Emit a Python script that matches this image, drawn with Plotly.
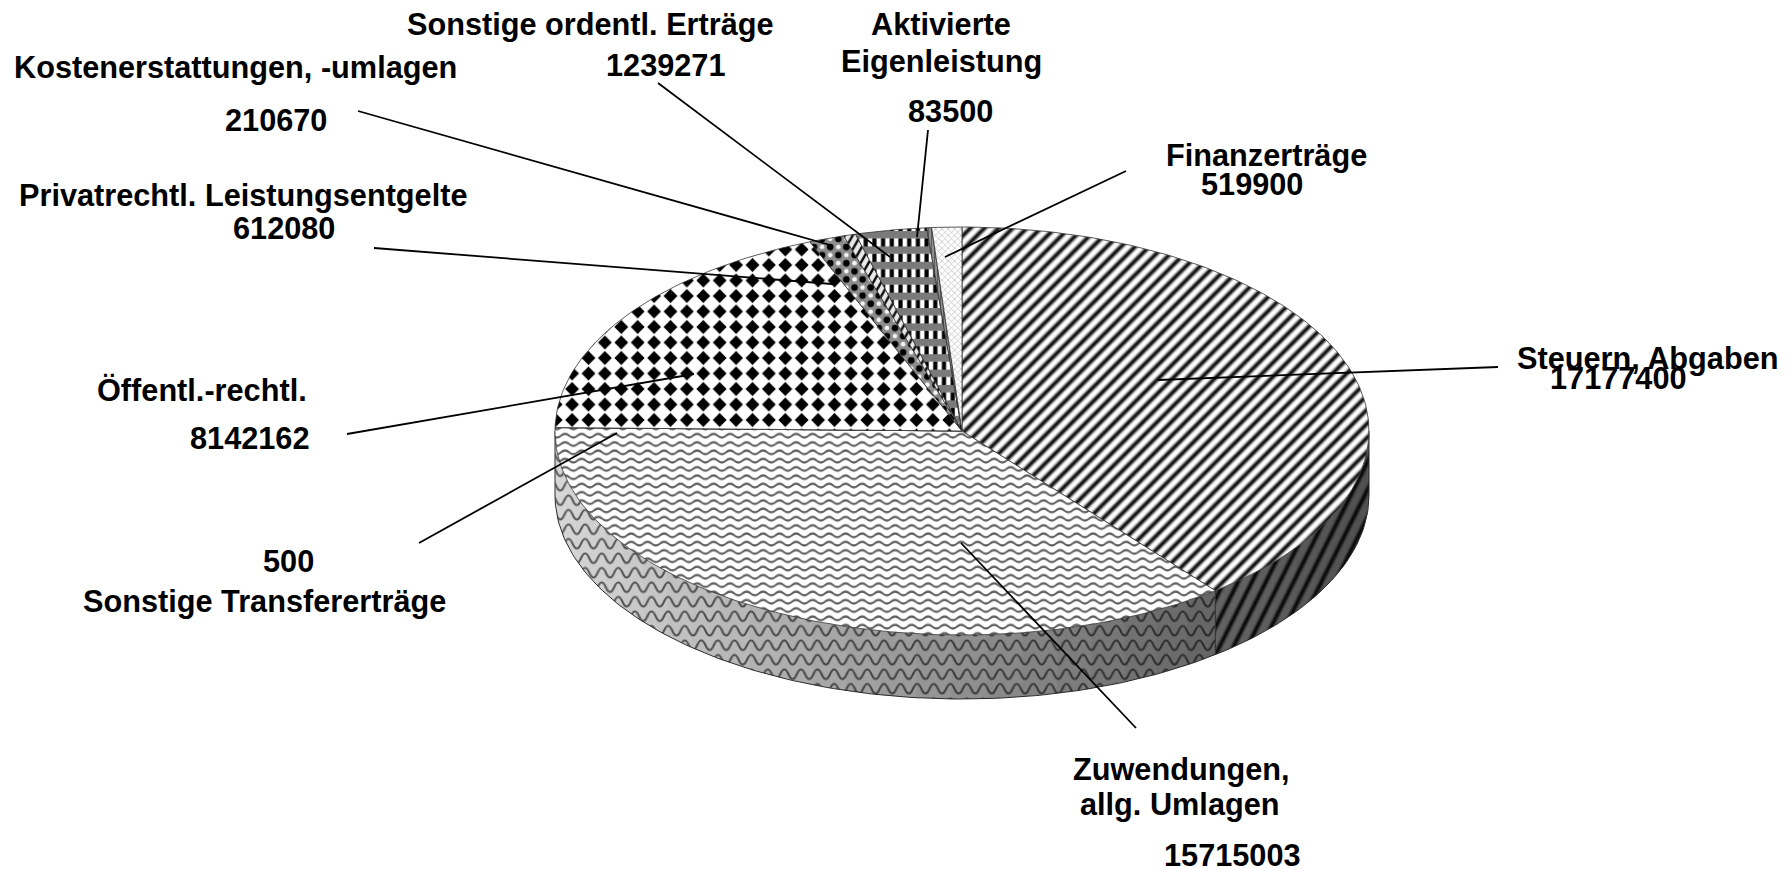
import math
import json
import plotly.graph_objects as go

# ---- data, clockwise from twelve o'clock ----
categories = ["Steuern, Abgaben", "Zuwendungen, allg. Umlagen", "Sonstige Transfererträge",
              "Öffentl.-rechtl.", "Privatrechtl. Leistungsentgelte", "Kostenerstattungen, -umlagen",
              "Sonstige ordentl. Erträge", "Aktivierte Eigenleistung", "Finanzerträge"]
values = [17177400, 15715003, 500, 8142162, 612080, 210670, 1239271, 83500, 519900]

# ---- label text and placement (pixels) ----
label_text = ["Sonstige ordentl. Erträge", "1239271", "Aktivierte", "Eigenleistung", "83500",
              "Kostenerstattungen, -umlagen", "210670", "Finanzerträge", "519900",
              "Privatrechtl. Leistungsentgelte", "612080", "Steuern, Abgaben", "17177400",
              "Öffentl.-rechtl.", "8142162", "500", "Sonstige Transfererträge",
              "Zuwendungen,", "allg. Umlagen", "15715003"]
label_x = [590, 665, 941, 941, 950, 235, 276, 1266, 1252, 243, 284, 1647, 1618, 202, 249, 288, 264, 1181, 1180, 1232]
label_y = [24, 65, 24, 61, 111, 67, 120, 155, 184, 195, 228, 358, 378, 390, 438, 561, 601, 769, 804, 855]

leader_x0 = [1498, 1126, 928, 658, 358, 374, 347, 419, 1136]
leader_y0 = [367, 171, 130, 83, 111, 248, 434, 543, 728]
leader_x1 = [1158, 945, 917, 890, 830, 832, 694, 617, 961]
leader_y1 = [380, 257, 237, 257, 245, 284, 374, 433, 543]

# ---- geometry of the tilted disc (pixels) ----
CX, CY, RX, RY, DEPTH = 962, 431, 407, 204, 64
total = sum(values)


def pt(deg, dy=0):
    r = math.radians(deg)
    return CX + RX * math.sin(r), CY - RY * math.cos(r) + dy


def arc(a0, a1, dy=0):
    n = max(2, int(abs(a1 - a0) / 1.0) + 2)
    return [pt(a0 + (a1 - a0) * i / (n - 1), dy) for i in range(n)]


edges = [0]
for v in values:
    edges.append(edges[-1] + v / total * 360)

# custom tiles are selected by their "size" in the script at the end
WAVE_TOP, WAVE_SIDE, STRIPE_TOP, STRIPE_SIDE, PLAID, DIAMOND, BALLS, THIN = 16.5, 16.6, 14.1, 13.9, 8.7, 16.4, 16.2, 7.9


def tile(size, fg, bg):
    return dict(shape="-", size=size, solidity=0.2, fgcolor=fg, bgcolor=bg)


top_patterns = [
    tile(STRIPE_TOP, "#000000", "#ffffff"),
    tile(WAVE_TOP, "#606060", "#ffffff"),
    dict(shape="-", size=4, solidity=0.2, fgcolor="#555555", bgcolor="#ffffff"),
    tile(DIAMOND, "#000000", "#ffffff"),
    tile(BALLS, "#000000", "#8c8c8c"),
    tile(THIN, "#111111", "#e8e8e8"),
    tile(PLAID, "#000000", "#ffffff"),
    dict(shape="|", size=3, solidity=0.45, fgcolor="#222222", bgcolor="#999999"),
    dict(shape="x", size=4.5, solidity=0.25, fgcolor="#666666", bgcolor="#ffffff"),
]

fig = go.Figure()


def poly(points, pattern=None, line=None):
    xs = [p[0] for p in points]
    ys = [p[1] for p in points]
    fig.add_trace(go.Scatter(x=xs, y=ys, mode="lines", fill="toself" if pattern else None,
                             fillpattern=pattern, fillcolor="rgba(0,0,0,0)" if pattern else None,
                             line=line or dict(width=0), hoverinfo="skip", showlegend=False))


def side_gray(x):
    if x < 1215:
        return 215 + (100 - 215) * (x - 555) / (1215 - 555)
    return 100 + (80 - 100) * (x - 1215) / (1368 - 1215)


# side wall, front half only, as shaded strips
STEP = 5
for i, (a0, a1) in enumerate([(edges[0], edges[1]), (edges[1], edges[2])]):
    lo, hi = max(a0, 90), min(a1, 270)
    a = lo
    while a < hi - 1e-6:
        b = min(a + STEP, hi)
        xm = pt((a + b) / 2)[0]
        g = round(side_gray(xm))
        bg = f"rgb({g},{g},{g})"
        if i == 0:
            pat = tile(STRIPE_SIDE, "#000000", bg)
        else:
            fg = round(g * 0.42)
            pat = tile(WAVE_SIDE, f"rgb({fg},{fg},{fg})", bg)
        b2 = min(b + 0.6, hi)
        poly(arc(a, b2) + arc(b2, a, DEPTH), pat)
        a = b

edge_line = dict(color="#2a2a2a", width=1)
poly(arc(90, 270, DEPTH), None, edge_line)
poly([pt(90), pt(90, DEPTH)], None, edge_line)
poly([pt(270), pt(270, DEPTH)], None, edge_line)
poly([pt(edges[1]), pt(edges[1], DEPTH)], None, edge_line)

# top face
for i in range(len(values)):
    poly([(CX, CY)] + arc(edges[i], edges[i + 1]) + [(CX, CY)], top_patterns[i],
         dict(color="#333333", width=0.8))

# leader lines
for x0, y0, x1, y1 in zip(leader_x0, leader_y0, leader_x1, leader_y1):
    fig.add_shape(type="line", x0=x0, y0=y0, x1=x1, y1=y1, xref="x", yref="y",
                  line=dict(color="#000000", width=1.8))

for t, x, y in zip(label_text, label_x, label_y):
    fig.add_annotation(text=f"<b>{t}</b>", x=x, y=y, xref="x", yref="y", showarrow=False,
                       xanchor="center", yanchor="middle",
                       font=dict(family="Liberation Sans", size=30.7, color="#000000"))

fig.update_layout(width=1789, height=869, margin=dict(l=0, r=0, t=0, b=0),
                  paper_bgcolor="#ffffff", plot_bgcolor="#ffffff", showlegend=False,
                  xaxis=dict(range=[0, 1789], visible=False, fixedrange=True),
                  yaxis=dict(range=[869, 0], visible=False, fixedrange=True))


def wave(w, y, a):
    return f"M{-w},{y}Q{-w*3/4},{y-2*a} {-w/2},{y}T0,{y}T{w/2},{y}T{w},{y}T{w*3/2},{y}T{2*w},{y}"


def diag(w, h):
    parts = [f"M{-w + k * w - w},{2*h}L{k * w + w},{-h}" for k in range(-2, 5)]
    return "".join(parts)


tiles = {
    str(WAVE_TOP): dict(h=8.3, kind="stroke", sw=2.1, d=wave(16.5, 4.15, 1.8), blur=0.5),
    str(WAVE_SIDE): dict(h=14.5, kind="stroke", sw=2.1, d=wave(16.6, 7.25, 4.8), blur=0.7),
    str(STRIPE_TOP): dict(h=14.1, kind="stroke", sw=3.9, d=diag(14.1, 14.1), blur=0.9),
    str(STRIPE_SIDE): dict(h=27.8, kind="stroke", sw=3.8, d=diag(13.9, 27.8), blur=0.8),
    str(THIN): dict(h=13.8, kind="stroke", sw=2.4, d=diag(7.9, 13.8), blur=0.2),
    str(PLAID): dict(h=15.4, kind="plaid", blur=0.4),
    str(DIAMOND): dict(h=15.5, kind="fill", d="M8.2,0.8L15.1,7.75L8.2,14.7L1.3,7.75Z", tr="translate(6.3,-6.25)", blur=0.7),
    str(BALLS): dict(h=16.2, kind="balls", blur=0.5),
}

post = """
document.body.style.margin = '0';
document.body.style.overflow = 'hidden';
var TILES = %s;
var NS = 'http://www.w3.org/2000/svg';
function mk(tag, attrs, parent) {
  var e = document.createElementNS(NS, tag);
  for (var k in attrs) e.setAttribute(k, attrs[k]);
  parent.appendChild(e);
  return e;
}
var fid = 0;
function apply() {
  document.querySelectorAll('pattern').forEach(function (p) {
    if (p.getAttribute('data-t')) return;
    var w = parseFloat(p.getAttribute('width'));
    var t = TILES[String(w)];
    if (!t) return;
    var r = p.querySelector('rect');
    var s = p.querySelector('path');
    if (!r || !s) return;
    var fg = s.getAttribute('stroke') || s.style.stroke || '#000';
    var bg = r.getAttribute('fill') || r.style.fill || '#fff';
    while (p.firstChild) p.removeChild(p.firstChild);
    p.setAttribute('height', t.h);
    p.setAttribute('data-t', '1');
    if (t.tr) p.setAttribute('patternTransform', t.tr);
    mk('rect', {width: w, height: t.h, fill: bg}, p);
    var id = 'tb' + (fid++);
    var flt = mk('filter', {id: id, filterUnits: 'userSpaceOnUse', x: -40, y: -40, width: 120, height: 120}, p.parentNode);
    mk('feGaussianBlur', {stdDeviation: t.blur}, flt);
    var g = mk('g', {filter: 'url(#' + id + ')'}, p);
    if (t.kind === 'stroke') mk('path', {d: t.d, fill: 'none', stroke: fg, 'stroke-width': t.sw}, g);
    if (t.kind === 'fill') mk('path', {d: t.d, fill: fg}, g);
    if (t.kind === 'plaid') {
      mk('rect', {x: -20, y: 0, width: 60, height: 7.4, fill: '#7a7a7a'}, g);
      mk('rect', {x: 2.3, y: 7.4, width: 4.2, height: 8, fill: '#000000'}, g);
    }
    if (t.kind === 'balls') {
      [[4, 4], [12.1, 12.1], [-4.1, 12.1], [12.1, -4.1], [20.2, 4], [4, 20.2]].forEach(function (c) {
        mk('circle', {cx: c[0], cy: c[1], r: 3.3, fill: fg}, g);
      });
      [[12.1, 4], [4, 12.1]].forEach(function (c) {
        mk('circle', {cx: c[0], cy: c[1], r: 2.3, fill: '#f5f5f5'}, g);
      });
    }
  });
}
apply();
setTimeout(apply, 50);
setTimeout(apply, 300);
var gdEl = document.getElementById('{plot_id}');
if (gdEl && gdEl.on) gdEl.on('plotly_afterplot', apply);
""" % json.dumps(tiles)

fig.write_html("out.html", post_script=post, config={"displayModeBar": False})
